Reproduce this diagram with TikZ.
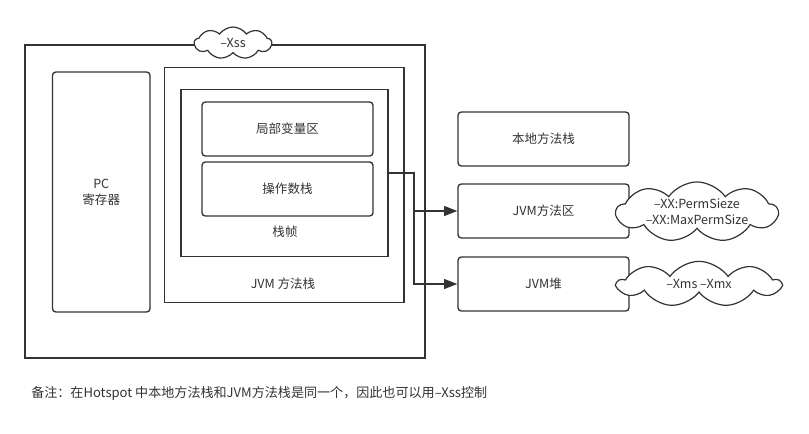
\documentclass[tikz,border=0pt]{standalone}
\usepackage{fontspec}
\setmainfont{Noto Sans CJK SC}
\usepackage{xcolor}
\usetikzlibrary{shapes.symbols,arrows.meta}
\definecolor{linegray}{HTML}{333333}
\begin{document}
\begin{tikzpicture}[x=0.75pt,y=-0.75pt]
\tikzstyle{every node}+=[inner sep=0pt,text=linegray,font=\fontsize{9.4}{12}\selectfont]
\tikzstyle{box}=[draw=linegray,line width=1pt,minimum width=128.25pt,minimum height=40.5pt]
\tikzstyle{rbox}=[box,rounded corners=2.5pt]
\tikzstyle{bubble}=[draw=linegray,fill=white,line width=0.9pt,cloud,cloud puffs=9,cloud puff arc=110,cloud ignores aspect,align=center]
\useasboundingbox (0,0) rectangle (809,433);
% left part: thread area
\node [box,minimum width=300pt,minimum height=234.75pt] (thread) at (225,201.5) {};
\node [rbox,minimum width=73.1pt,minimum height=180pt,align=center] (pc) at (101.25,192) {PC\\寄存器};
\node [box,minimum width=179.6pt,minimum height=176.25pt] (stack) at (284.25,185) {};
\node (stacklbl) at (283,284) {JVM 方法栈};
\node [box,minimum width=155.25pt,minimum height=125.25pt] (frame) at (284.5,173) {};
\node (framelbl) at (285,232) {栈帧};
\node [rbox] (local) at (287.5,129) {局部变量区};
\node [rbox] (opstack) at (287.5,189) {操作数栈};
\node [bubble,minimum width=58pt,minimum height=24pt] (xss) at (233,43) {–Xss};
% right part
\node [rbox] (native) at (543.5,139) {本地方法栈};
\node [rbox] (area) at (543.5,211) {JVM方法区};
\node [rbox] (heap) at (543.5,284) {JVM堆};
\node [bubble,minimum width=121pt,minimum height=38pt] (permsize) at (697,212) {–XX:PermSieze\\–XX:MaxPermSize};
\node [bubble,minimum width=122pt,minimum height=34pt] (heapsize) at (699,284) {–Xms –Xmx};
% connectors
\coordinate (split) at (414,173);
\draw [linegray,line width=1pt,-{Triangle[length=10pt,width=7.5pt]}] (frame.east) -- (split) |- (area.west);
\draw [linegray,line width=1pt,-{Triangle[length=10pt,width=7.5pt]}] (split) |- (heap.west);
\node [anchor=west,font=\fontsize{9.8}{12}\selectfont] (note) at (31,393) {备注：在Hotspot 中本地方法栈和JVM方法栈是同一个，因此也可以用–Xss控制};
\end{tikzpicture}
\end{document}
